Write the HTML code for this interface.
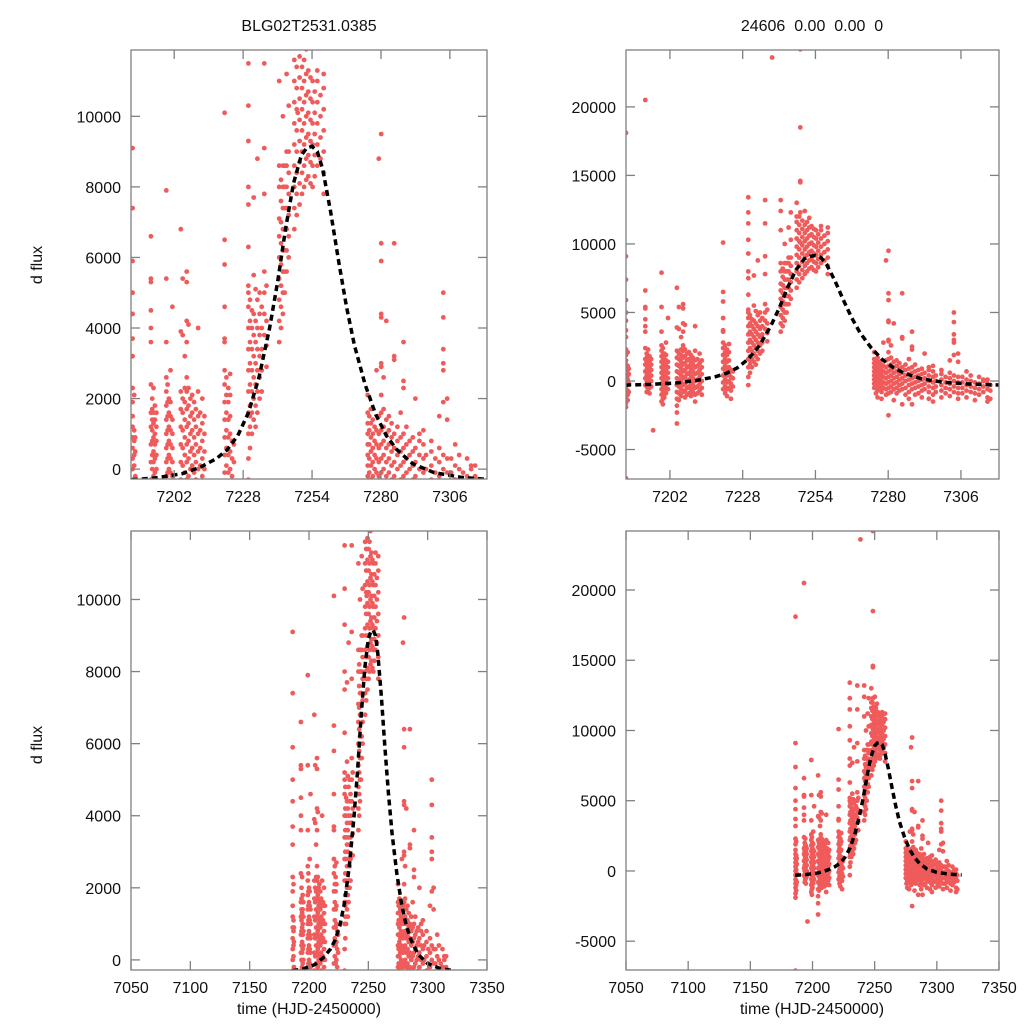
<!DOCTYPE html>
<html><head><meta charset="utf-8"><style>
html,body{margin:0;padding:0;background:#fff;width:1024px;height:1024px;overflow:hidden;position:relative;}
svg{display:block;position:absolute;left:0;top:0;font-family:"Liberation Sans",Arial,sans-serif;}
</style></head><body>
<svg id="chart" width="1024" height="1024" viewBox="0 0 1024 1024">
<text x="309" y="31" font-size="16" text-anchor="middle" fill="#111">BLG02T2531.0385</text>
<text x="812" y="31" font-size="16" text-anchor="middle" fill="#111" xml:space="preserve">24606  0.00  0.00  0</text>
<text transform="translate(42,265) rotate(-90)" font-size="16" text-anchor="middle" fill="#111">d flux</text>
<text transform="translate(42,745) rotate(-90)" font-size="16" text-anchor="middle" fill="#111">d flux</text>
<text x="309" y="1014" font-size="16" text-anchor="middle" fill="#111">time (HJD-2450000)</text>
<text x="812" y="1014" font-size="16" text-anchor="middle" fill="#111">time (HJD-2450000)</text>
</svg>
<script>
// observations: "time:flux values in thousands"
const obsColumns = [
"7186.3:-7.1,-1.9,-1.6,-1.2,-0.9,-0.6,-0.3,0,0.3,0.6,0.9,1.2,1.5,1.9,2.3,3.2,3.7,4.4,5,5.9,7.4,9.1,18.1",
"7186.9:-1.4,-1,-0.7,-0.3,0.1,0.4,0.8,1.1,2.1",
"7187.3:-0.8,-0.2,0.5,0.9",
"7193.2:-0.3,0.2,0.7,1.2,1.6,2.4,3.6,4,4.5,5.3,5.4,6.6,20.5",
"7193.7:-0.8,-0.4,0,0.4,0.8,1.1,1.4,1.7,2",
"7194.2:-0.6,-0.2,0.2,0.5,0.9,1.3,1.6,2.3",
"7194.7:-0.9,-0.5,-0.1,0.3,0.7,1,1.4,1.8",
"7195.3:-0.4,0,0.4,0.8,1.2,1.6",
"7196:-3.6",
"7199:-1.5,-1,-0.6,-0.2,0.2,0.6,1,1.4,1.8,2.2,2.6,3.6,5.4,7.9",
"7199.5:-1.7,-1.3,-0.9,-0.5,-0.1,0.3,0.7,1.1,1.5,1.9,2.4",
"7200:-1.2,-0.8,-0.4,0,0.4,0.8,1.2,1.6,2",
"7200.6:-0.9,-0.5,-0.1,0.3,0.7,1.1,1.5,1.9,2.8",
"7201.3:-0.6,-0.2,0.2,0.6,1,1.4,4.6",
"7204.5:-3.1,-2.3,-1.8,-1.3,-0.8,-0.3,0.2,0.7,1.2,1.7,2.2,3.9,6.8",
"7205.2:-1.4,-0.9,-0.4,0.1,0.6,1.1,1.6,2,3.8,5.4",
"7206:-1.1,-0.6,-0.1,0.4,0.9,1.4,1.9,2.3,3.2",
"7206.7:-0.8,-0.3,0.2,0.7,1.2,1.7,2.2,5.6,5.3,4.2,3.6,2.6",
"7207.4:-1.2,-0.7,-0.2,0.3,0.8,1.3,1.8,2.3,4.1",
"7208.1:-1,-0.5,0,0.5,1,1.5,2",
"7208.8:-0.9,-0.4,0.1,0.6,1.1,1.6,2.1",
"7209.5:-1.1,-0.6,-0.1,0.4,0.9,1.4,1.9",
"7210.2:-0.8,-0.3,0.2,0.7,1.2,1.7",
"7211:-1.5,-1,-0.5,0,0.5,1,1.5,2.2,4",
"7211.8:-0.9,-0.4,0.1,0.6,1.1,1.6",
"7212.6:-0.7,-0.2,0.3,0.8,1.3,2",
"7213.4:-1,-0.5,0,0.5,1,1.5",
"7221:-0.6,-0.1,0.4,0.9,1.4,1.9,2.4,2.8,3.6,3.7,4.6,5.8,6.5,10.1",
"7221.7:-0.9,-0.4,0.1,0.6,1.1,1.6,2.1,2.6",
"7222.4:-1.1,-0.6,-0.1,0.4,0.9,1.4,1.9,2.3",
"7223.1:-0.5,0,0.5,1,1.5,2.1,2.7",
"7223.8:-1.3,-0.7,-0.2,0.3,0.8",
"7224.5:-0.4,0.2,0.7",
"7230:-0.3,0.3,1,1.6,2.2,2.8,3.4,4,4.6,5,5.2,6.3,7.5,8,9.3,10.3,11.5,12.3,13.4",
"7230.6:0.6,1.2,1.8,2.4,3,3.6,4.2,4.8,1.5",
"7231.3:1,1.6,2.2,2.8,3.4,4,4.5",
"7232:1.4,2,2.6,3.2,3.8,4.4,5.5,7.7",
"7232.7:1.2,1.8,2.4,3,3.6,4.2,5.1",
"7233.4:1.6,2.2,2.8,3.4,4,4.8,8.8",
"7234.2:2,2.6,3.2,3.8,4.4,5",
"7235:2.2,2.8,3.4,4,4.6",
"7236:3.8,4.4,5,5.6,7.8,9.1,11.5,13.2",
"7236.8:2.9,3.5,4.2,5.2",
"7238.5:23.6",
"7241.6:3.6,4.2,4.8,5.4,6,6.6,7.1,8,8.6,11,13.2,12.4",
"7242.3:4,4.6,5.2,5.8,6.4,7,7.6,8.2",
"7243:4.4,5,5.6,6.2,6.8,7.4,8,8.6,10",
"7243.7:5,5.6,6.2,6.8,7.4,8,8.6",
"7244.4:5.6,6.2,6.8,7.4,8,8.6,9,11.2",
"7245.2:6,6.6,7.2,7.8,8.4,9,10.3,12.3",
"7247.3:6.8,7.4,8,8.6,9.2,9.8,10.4,11,11.6,13,12",
"7248.2:7.2,7.8,8.4,9,9.6,10.2,10.8,11.4,12",
"7248.6:14.5,14.6,18.5,24.2,12.3,10.1",
"7249.3:7.5,8.1,8.7,9.3,9.9,10.5,11.1,11.7",
"7250.2:7.8,8.4,9,9.6,10.2,10.8,11.4,12.4",
"7251:8,8.6,9.2,9.8,10.4,11,11.6",
"7251.8:8.2,8.8,9.4,10,10.6,11.2,11.9",
"7252.6:8.3,8.9,9.5,10.1,10.7,11.3",
"7253.4:8.1,8.7,9.3,9.9,10.5,11.1",
"7254.2:8,8.6,9.2,9.8,10.4,11",
"7255:8.3,8.9,9.5,10.1,10.7",
"7256:8.6,9.2,9.8,10.4,11,11.3",
"7257.2:8.8,9.4,10,10.6",
"7258.4:7.8,8.4,9,9.6,10.2,10.8,11.2",
"7275:-0.5,-0.2,0.1,0.4,0.7,1,1.3,1.6,2.1",
"7275.6:-0.9,-0.5,-0.1,0.3,0.7,1.1,1.5",
"7276.2:-1.2,-0.7,-0.3,0.1,0.5,0.9,1.3,1.7",
"7276.9:-0.6,-0.2,0.2,0.6,1,1.4",
"7277.6:-1.3,-0.8,-0.4,0,0.4,0.8,1.2",
"7278.3:-0.5,-0.1,0.3,0.7,1.1,2.8",
"7279.2:-1,-0.6,-0.2,0.2,0.6,1,1.5,8.8",
"7280.1:-2.5,-0.9,-0.5,-0.1,0.3,0.7,1.1,1.6,2.1,2.9,3,4.3,4.4,5.9,6.4,9.5",
"7281:-0.8,-0.4,0,0.4,0.8,1.2,1.7,2.6",
"7282:-1.4,-0.6,-0.2,0.2,0.6,1,1.4,4.2",
"7283:-0.9,-0.5,-0.1,0.3,0.7,1.1,1.5",
"7284:-0.7,-0.3,0.1,0.5,0.9,1.3",
"7285:-1.7,-0.6,-0.2,0.2,0.6,1,3.1,3.2,6.4",
"7286.2:-1,-0.5,0,0.4,0.8,1.2",
"7287.4:-1.3,-0.8,-0.3,0.1,0.5,0.9,1.6",
"7288.5:-1.7,-0.6,-0.2,0.2,0.6,1,2.3,2.5,3.6",
"7289.6:-1,-0.5,-0.1,0.3,0.7,1.2",
"7290.8:-0.9,-0.4,0,0.4,0.8",
"7292:-1.2,-0.7,-0.3,0.1,0.5,0.9",
"7293:-0.6,-0.2,0.2,0.6,2",
"7294.5:-1.3,-0.8,-0.4,0,0.4,0.8,1",
"7296:-1.5,-1,-0.5,-0.1,0.3,0.7,1.1",
"7297:-0.8,-0.4,0,0.4",
"7299:-1.2,-0.7,-0.3,0.1,0.5,0.8",
"7300.5:-0.9,-0.5,-0.1,0.3",
"7302:-1.1,-0.6,-0.2,0.2,0.6,1.5",
"7303.5:-0.8,-0.4,0,0.4,1.9,2.8,3,3.4,4.3,5",
"7305:-1.3,-0.9,-0.5,-0.1,0.3,1.4,2",
"7306.5:-0.9,-0.5,-0.1,0.3",
"7308:-1.2,-0.7,-0.3,0.1,0.7",
"7309.5:-0.8,-0.4,0,0.4",
"7311:-1.4,-0.9,-0.5,-0.1",
"7312.5:-1,-0.6,-0.2,0.3",
"7314:-0.8,-0.4,0,0.1",
"7315.5:-1.5,-1.2,-0.6,-0.2,0.1",
"7316.5:-1.3,-0.7,-0.3"
];
// model fit curve
const modelTimes = [7186,7195,7205,7212,7218,7222,7226,7230,7234,7238,7241,7244,7247,7250,7252,7254,7256,7258,7261,7264,7267,7270,7274,7278,7282,7286,7292,7300,7310,7320];
const modelFlux  = [-300,-250,-130,60,300,550,950,1600,2600,4000,5300,6800,8100,8900,9100,9150,9000,8500,7300,5900,4600,3500,2400,1550,950,550,150,-100,-230,-290];
const topXTicks = [7202,7228,7254,7280,7306];
const bottomXTicks = [7050,7100,7150,7200,7250,7300,7350];
const leftYTicks = [0,2000,4000,6000,8000,10000];
const rightYTicks = [-5000,0,5000,10000,15000,20000];

const NS = "http://www.w3.org/2000/svg";
const svg = document.getElementById('chart');
const points = [];
obsColumns.forEach(s => { const [t, vs] = s.split(':'); vs.split(',').forEach(v => points.push([parseFloat(t), parseFloat(v) * 1000])); });

const panels = [
 {id:'top-left', x0:131, x1:487, y0:50, y1:479, xd:[7185.7,7320], yd:[-280,11880], xt:topXTicks, yt:leftYTicks},
 {id:'top-right', x0:626, x1:999, y0:50, y1:479, xd:[7186.3,7319.6], yd:[-7150,24150], xt:topXTicks, yt:rightYTicks},
 {id:'bottom-left', x0:131, x1:487, y0:531, y1:970, xd:[7050,7350], yd:[-280,11900], xt:bottomXTicks, yt:leftYTicks},
 {id:'bottom-right', x0:626, x1:999, y0:531, y1:970, xd:[7050,7350], yd:[-7050,24200], xt:bottomXTicks, yt:rightYTicks}
];
function mk(tag, attrs, parent) { const e = document.createElementNS(NS, tag); for (const k in attrs) e.setAttribute(k, attrs[k]); (parent || svg).appendChild(e); return e; }
const defs = mk('defs', {});
panels.forEach(p => {
  const sx = t => p.x0 + (t - p.xd[0]) / (p.xd[1] - p.xd[0]) * (p.x1 - p.x0);
  const sy = v => p.y1 - (v - p.yd[0]) / (p.yd[1] - p.yd[0]) * (p.y1 - p.y0);
  const cp = mk('clipPath', {id: 'clip-' + p.id}, defs);
  mk('rect', {x: p.x0, y: p.y0, width: p.x1 - p.x0, height: p.y1 - p.y0}, cp);
  const g = mk('g', {'clip-path': 'url(#clip-' + p.id + ')'});
  
  
  const dg = mk('g', {fill: '#ef5b5b'}, g);
  
  
  points.forEach(pt => {
    const cx = sx(pt[0]), cy = sy(pt[1]);
    if (cx < p.x0 - 3 || cx > p.x1 + 3 || cy < p.y0 - 3 || cy > p.y1 + 3) return;
    const c = mk('circle', {cx: cx.toFixed(1), cy: cy.toFixed(1), r: 2.4}, dg);
    
    
  });
  const d = modelTimes.map((t, i) => (i ? 'L' : 'M') + sx(t).toFixed(1) + ',' + sy(modelFlux[i]).toFixed(1)).join('');
  const line = mk('path', {d: d, fill: 'none', stroke: '#000', 'stroke-width': 3.5, 'stroke-dasharray': '6,4'}, g);
  
  
  const frame = mk('rect', {x: p.x0, y: p.y0, width: p.x1 - p.x0, height: p.y1 - p.y0, fill: 'none', stroke: '#808080', 'stroke-width': 1.3});
  
  
  p.xt.forEach(t => {
    const x = sx(t);
    mk('line', {x1: x, x2: x, y1: p.y1, y2: p.y1 - 9, stroke: '#808080', 'stroke-width': 1.3});
    mk('line', {x1: x, x2: x, y1: p.y0, y2: p.y0 + 9, stroke: '#808080', 'stroke-width': 1.3});
    const tx = mk('text', {x: x, y: p.y1 + 23, 'font-size': 16, 'text-anchor': 'middle', fill: '#111'});
    tx.textContent = t;
    
    
  });
  p.yt.forEach(v => {
    const y = sy(v);
    mk('line', {x1: p.x0, x2: p.x0 + 9, y1: y, y2: y, stroke: '#808080', 'stroke-width': 1.3});
    mk('line', {x1: p.x1, x2: p.x1 - 9, y1: y, y2: y, stroke: '#808080', 'stroke-width': 1.3});
    const ty = mk('text', {x: p.x0 - 10, y: y + 6, 'font-size': 16, 'text-anchor': 'end', fill: '#111'});
    ty.textContent = v;
    
    
  });
});
</script>
</body></html>
